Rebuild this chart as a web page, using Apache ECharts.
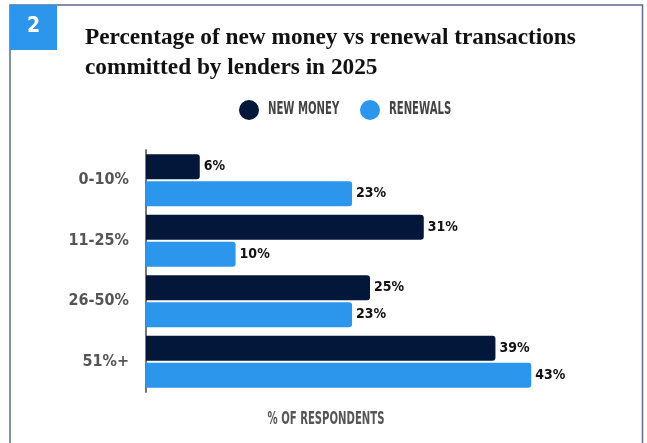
<!DOCTYPE html>
<html>
<head>
<meta charset="utf-8">
<script src="https://cdn.jsdelivr.net/npm/echarts@6/dist/echarts.min.js"></script>
<style>
  html, body { margin: 0; padding: 0; background: #ffffff; }
  #chart { width: 647px; height: 443px; }
</style>
</head>
<body>
<div id="chart"></div>
<script>
// Share of transactions committed, by bucket
const categories = ['0-10%', '11-25%', '26-50%', '51%+'];
const newMoney = [6, 31, 25, 39];
const renewals = [23, 10, 23, 43];
const seriesNames = ['NEW MONEY', 'RENEWALS'];

const NAVY = '#03173a';
const BLUE = '#2b96eb';
const CONDENSED = "'Liberation Sans Narrow', 'DejaVu Sans Condensed', 'Roboto', sans-serif";

const chart = echarts.init(document.getElementById('chart'), null, { renderer: 'canvas' });

const barLabel = {
  show: true,
  position: 'right',
  distance: 4,
  formatter: p => p.value + '%',
  color: '#111',
  fontFamily: CONDENSED,
  fontWeight: 'bold',
  fontSize: 14
};

// Legend drawn as a group so the caption type can be condensed horizontally
function legendItem(x, color, text) {
  return {
    type: 'group',
    x: x,
    y: 110,
    children: [
      { type: 'circle', shape: { cx: 0, cy: 0, r: 10 }, style: { fill: color } },
      {
        type: 'text',
        x: 19,
        y: 0,
        scaleX: 0.66,
        style: {
          text: text,
          align: 'left',
          verticalAlign: 'middle',
          fill: '#444',
          font: "bold 17px " + CONDENSED
        }
      }
    ]
  };
}

chart.setOption({
  animation: false,
  backgroundColor: '#ffffff',
  title: {
    text: 'Percentage of new money vs renewal transactions\ncommitted by lenders in 2025',
    left: 80,
    top: 18,
    textStyle: {
      fontFamily: "'Liberation Serif', 'DejaVu Serif', serif",
      fontWeight: 'bold',
      fontSize: 23.3,
      lineHeight: 30,
      color: '#111'
    }
  },
  legend: { show: false, data: seriesNames },
  grid: { left: 146, right: 53, top: 150, bottom: 51, containLabel: false },
  xAxis: {
    type: 'value',
    min: 0,
    max: 50,
    show: false
  },
  yAxis: {
    type: 'category',
    data: categories,
    inverse: true,
    axisLine: { show: true, lineStyle: { color: '#777', width: 2 } },
    axisTick: { show: false },
    axisLabel: {
      margin: 17,
      fontFamily: CONDENSED,
      fontWeight: 'bold',
      fontSize: 16,
      color: '#555'
    }
  },
  series: [
    {
      name: seriesNames[0],
      type: 'bar',
      data: newMoney,
      barWidth: 25,
      barGap: '8%',
      itemStyle: { color: NAVY, borderRadius: [0, 3, 3, 0] },
      label: barLabel
    },
    {
      name: seriesNames[1],
      type: 'bar',
      data: renewals,
      barWidth: 25,
      itemStyle: { color: BLUE, borderRadius: [0, 3, 3, 0] },
      label: barLabel
    }
  ],
  graphic: [
    {
      type: 'polyline',
      shape: { points: [[10, 443], [10, 5], [642.5, 5], [642.5, 443]] },
      style: { stroke: '#5b6b8c', lineWidth: 1.5, fill: null }
    },
    {
      type: 'rect',
      shape: { x: 10, y: 5, width: 47, height: 45 },
      style: { fill: BLUE }
    },
    {
      type: 'text',
      x: 33.5,
      y: 27,
      style: {
        text: '2',
        align: 'center',
        verticalAlign: 'middle',
        fill: '#ffffff',
        font: "bold 21px " + CONDENSED
      }
    },
    legendItem(249, NAVY, seriesNames[0]),
    legendItem(370, BLUE, seriesNames[1]),
    {
      type: 'text',
      x: 326,
      y: 420,
      scaleX: 0.66,
      style: {
        text: '% OF RESPONDENTS',
        align: 'center',
        verticalAlign: 'middle',
        fill: '#555',
        font: "bold 17px " + CONDENSED
      }
    }
  ]
});
</script>
</body>
</html>
